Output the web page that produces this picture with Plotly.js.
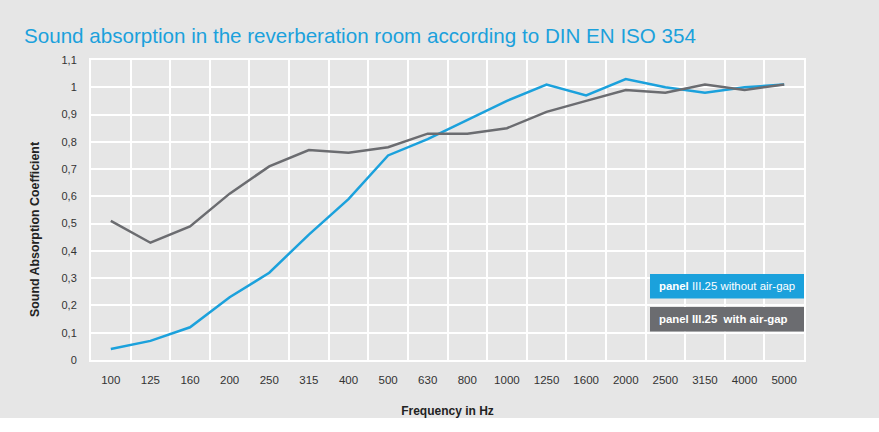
<!DOCTYPE html>
<html>
<head>
<meta charset="utf-8">
<script src="https://cdn.plot.ly/plotly-3.0.1.min.js"></script>
<style>
  html, body { margin: 0; padding: 0; }
  #chart { width: 879px; height: 432px; background: linear-gradient(#e6e6e6 0px, #e6e6e6 418px, #ffffff 418px, #ffffff 432px); }
</style>
</head>
<body>
<div id="chart"></div>
<script>
const frequencies = ["100","125","160","200","250","315","400","500","630","800","1000","1250","1600","2000","2500","3150","4000","5000"];
const withoutAirGap = [0.04,0.07,0.12,0.23,0.32,0.46,0.59,0.75,0.81,0.88,0.95,1.01,0.97,1.03,1.00,0.98,1.00,1.01];
const withAirGap    = [0.51,0.43,0.49,0.61,0.71,0.77,0.76,0.78,0.83,0.83,0.85,0.91,0.95,0.99,0.98,1.01,0.99,1.01];
const seriesNames = ["panel III.25 without air-gap", "panel III.25  with air-gap"];
const legendHtml = ["<b>panel</b> III.25 without air-gap", "<b>panel III.25  with air-gap</b>"];
const yAxisTitle = "Sound Absorption Coefficient";
const xAxisTitle = "Frequency in Hz";

const blue = "#1ba1dc";
const grey = "#6b6c70";

const traces = [
  { x: frequencies, y: withoutAirGap, name: seriesNames[0], type: "scatter", mode: "lines",
    line: { color: blue, width: 2.5 } },
  { x: frequencies, y: withAirGap, name: seriesNames[1], type: "scatter", mode: "lines",
    line: { color: grey, width: 2.5 } }
];

const legendColors = [blue, grey];
const shapes = [];
const annotations = [];
const boxTop = [274, 307];
for (let i = 0; i < 2; i++) {
  const y0 = (360 - (boxTop[i] + 24.5)) / 300;
  const y1 = (360 - boxTop[i]) / 300;
  shapes.push({ type: "rect", xref: "paper", yref: "paper",
    x0: (650 - 91) / 713, x1: 1, y0: y0, y1: y1,
    fillcolor: legendColors[i], line: { width: 0 }, layer: "above" });
  annotations.push({ xref: "paper", yref: "paper", x: (657 - 91) / 713, y: (y0 + y1) / 2,
    xanchor: "left", yanchor: "middle", showarrow: false, text: legendHtml[i],
    font: { family: "Arial, 'Liberation Sans', sans-serif", size: 11.4, color: "#ffffff" } });
}
// y-axis title, placed as in the reference (slightly below the plot centre)
annotations.push({ xref: "paper", yref: "paper", x: (35 - 91) / 713, y: (360 - 230) / 300,
  xanchor: "center", yanchor: "middle", textangle: -90, showarrow: false,
  text: "<b>" + yAxisTitle + "</b>",
  font: { family: "Arial, 'Liberation Sans', sans-serif", size: 12.4, color: "#222222" } });

const layout = {
  width: 879, height: 432,
  paper_bgcolor: "rgba(0,0,0,0)",
  plot_bgcolor: "#e6e6e6",
  separators: ",.",
  showlegend: false,
  margin: { l: 91, r: 75, t: 60, b: 72, pad: 0 },
  font: { family: "Arial, 'Liberation Sans', sans-serif", color: "#333333" },
  title: { text: "Sound absorption in the reverberation room according to DIN EN ISO 354",
    xref: "container", yref: "container", x: 24 / 879, xanchor: "left", y: 1 - 36 / 432, yanchor: "middle",
    font: { family: "Arial, 'Liberation Sans', sans-serif", size: 20.6, color: "#1ba1dc" } },
  xaxis: {
    type: "category", range: [-0.5, 17.5], tickson: "boundaries",
    showgrid: true, gridcolor: "#ffffff", gridwidth: 2,
    showline: true, linecolor: "#ffffff", linewidth: 2, mirror: true,
    ticks: "", ticklabelstandoff: 8,
    tickfont: { size: 11.5, color: "#333333" },
    zeroline: false, fixedrange: true,
    title: { text: "<b>" + xAxisTitle + "</b>", standoff: 22, font: { size: 12, color: "#222222" } }
  },
  yaxis: {
    range: [0, 1.1], dtick: 0.1, tick0: 0,
    showgrid: true, gridcolor: "#ffffff", gridwidth: 2,
    showline: true, linecolor: "#ffffff", linewidth: 2, mirror: true,
    zeroline: false, ticks: "", ticklabelstandoff: 10,
    tickfont: { size: 11, color: "#333333" }, fixedrange: true
  },
  shapes: shapes,
  annotations: annotations
};

Plotly.newPlot("chart", traces, layout, { displayModeBar: false, staticPlot: true });
</script>
</body>
</html>
